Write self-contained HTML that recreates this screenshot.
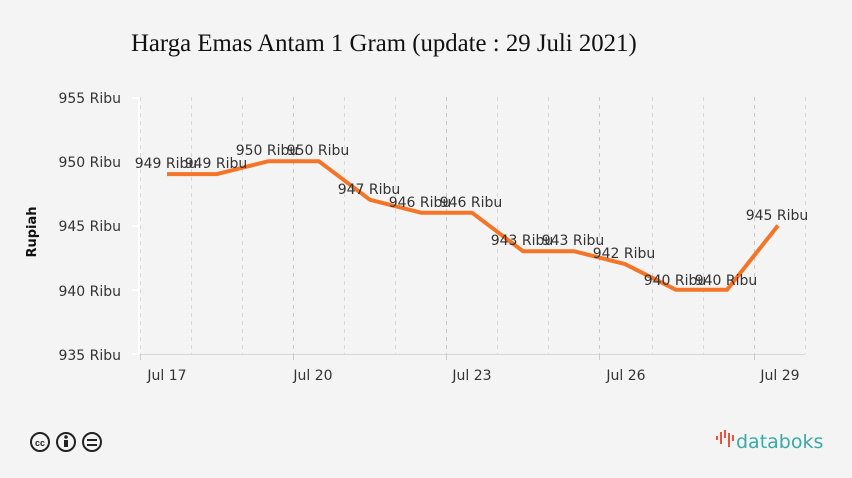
<!DOCTYPE html>
<html><head><meta charset="utf-8"><style>
html,body{margin:0;padding:0;background:#f4f4f4}
svg{display:block}
</style></head><body>
<svg width="852" height="478" viewBox="0 0 852 478" xmlns="http://www.w3.org/2000/svg">
<rect width="852" height="478" fill="#f4f4f4"/>
<text x="131" y="51" font-family="Liberation Serif, serif" font-size="24.8" fill="#111">Harga Emas Antam 1 Gram (update : 29 Juli 2021)</text>
<g stroke="#d8d8d8" stroke-dasharray="4,4" stroke-width="1">
<line x1="140.5" y1="97" x2="140.5" y2="354"/><line x1="191.5" y1="97" x2="191.5" y2="354"/>
<line x1="242.5" y1="97" x2="242.5" y2="354"/><line x1="293.5" y1="97" x2="293.5" y2="354" stroke="#c8c8c8"/>
<line x1="344.5" y1="97" x2="344.5" y2="354"/><line x1="395.5" y1="97" x2="395.5" y2="354"/>
<line x1="446.5" y1="97" x2="446.5" y2="354" stroke="#c8c8c8"/><line x1="497.5" y1="97" x2="497.5" y2="354"/>
<line x1="548.5" y1="97" x2="548.5" y2="354"/><line x1="599.5" y1="97" x2="599.5" y2="354" stroke="#c8c8c8"/>
<line x1="652.5" y1="97" x2="652.5" y2="354"/><line x1="703.5" y1="97" x2="703.5" y2="354"/>
<line x1="754.5" y1="97" x2="754.5" y2="354" stroke="#c8c8c8"/><line x1="805.5" y1="97" x2="805.5" y2="354"/>
</g>
<line x1="140" y1="354.5" x2="805" y2="354.5" stroke="#d8d8d8"/>
<g stroke="#ccc"><line x1="140.5" y1="354" x2="140.5" y2="360"/><line x1="293.5" y1="354" x2="293.5" y2="360"/><line x1="446.5" y1="354" x2="446.5" y2="360"/><line x1="599.5" y1="354" x2="599.5" y2="360"/><line x1="754.5" y1="354" x2="754.5" y2="360"/></g>
<g stroke="#fff" stroke-width="2"><line x1="139" y1="97" x2="139" y2="354"/><line x1="132" y1="98" x2="139" y2="98"/><line x1="132" y1="226" x2="139" y2="226"/><line x1="132" y1="290" x2="139" y2="290"/><line x1="132" y1="354" x2="139" y2="354"/></g>
<g font-family="DejaVu Sans, sans-serif" font-size="14" fill="#333" text-anchor="end">
<text x="121" y="103">955 Ribu</text><text x="121" y="167">950 Ribu</text><text x="121" y="231">945 Ribu</text><text x="121" y="296">940 Ribu</text><text x="121" y="360">935 Ribu</text>
</g>
<text transform="translate(36,232) rotate(-90)" text-anchor="middle" font-family="DejaVu Sans, sans-serif" font-size="13" font-weight="bold" fill="#111">Rupiah</text>
<g font-family="DejaVu Sans, sans-serif" font-size="14" fill="#333" text-anchor="middle">
<text x="167" y="380">Jul 17</text><text x="313" y="380">Jul 20</text><text x="472" y="380">Jul 23</text><text x="626" y="380">Jul 26</text><text x="780" y="380">Jul 29</text>
</g>
<polyline fill="none" stroke="#f47528" stroke-width="4" stroke-linejoin="round" points="167,174.1 217,174.1 268,161.3 319,161.3 370,199.8 421,212.7 472,212.7 523,251.2 574,251.2 625,264.1 676,289.8 727,289.8 778,225.5"/>
<g font-family="DejaVu Sans, sans-serif" font-size="14" fill="#333" text-anchor="middle">
<text x="166" y="168">949 Ribu</text><text x="216" y="168">949 Ribu</text>
<text x="267" y="155">950 Ribu</text><text x="318" y="155">950 Ribu</text>
<text x="369" y="194">947 Ribu</text><text x="420" y="207">946 Ribu</text><text x="471" y="207">946 Ribu</text>
<text x="522" y="245">943 Ribu</text><text x="573" y="245">943 Ribu</text><text x="624" y="258">942 Ribu</text>
<text x="675" y="285">940 Ribu</text><text x="726" y="285">940 Ribu</text><text x="777" y="220">945 Ribu</text>
</g>
<g fill="none" stroke="#222" stroke-width="2">
<circle cx="40" cy="442" r="9"/><circle cx="66" cy="442" r="9"/><circle cx="92" cy="442" r="9"/>
</g>
<text x="40" y="446" text-anchor="middle" font-family="Liberation Sans,sans-serif" font-size="9" font-weight="bold" fill="#222">cc</text>
<circle cx="66" cy="437" r="1.8" fill="#222"/><rect x="64" y="440" width="4" height="7" fill="#222"/>
<rect x="87" y="439" width="10" height="2" fill="#222"/><rect x="87" y="444" width="10" height="2" fill="#222"/>
<g fill="#e8553c">
<rect x="716" y="436" width="2" height="4"/><rect x="720" y="432" width="2" height="12"/><rect x="724" y="430" width="2" height="8"/><rect x="728" y="433" width="2" height="14"/><rect x="732" y="435" width="2" height="6"/>
</g>
<text x="736" y="448" font-family="DejaVu Sans, sans-serif" font-size="19" fill="#3aa9a8">databoks</text>
</svg>
</body></html>
